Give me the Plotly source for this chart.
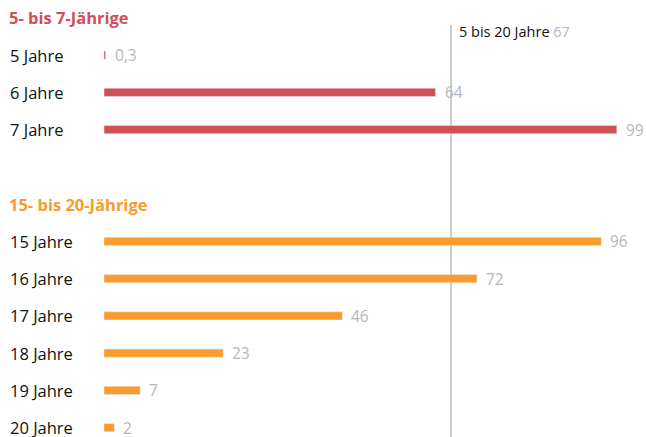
import plotly.graph_objects as go

young_header = "5- bis 7-Jährige"
young_labels = ["5 Jahre", "6 Jahre", "7 Jahre"]
young_values = [0.3, 64, 99]

teen_header = "15- bis 20-Jährige"
teen_labels = ["15 Jahre", "16 Jahre", "17 Jahre", "18 Jahre", "19 Jahre", "20 Jahre"]
teen_values = [96, 72, 46, 23, 7, 2]

ref_label = "5 bis 20 Jahre"
ref_value = 67

RED = "#d05056"
ORANGE = "#f99b2f"
GREY_TXT = "#b3b7bb"
FONT = "Open Sans"

# row order top to bottom, incl. header rows and one blank spacer
rows = [young_header] + young_labels + [" "] + [teen_header] + teen_labels

def fmt(v):
    return str(v).replace(".", ",")

fig = go.Figure()
fig.add_trace(go.Bar(x=young_values, y=young_labels, orientation="h",
                     marker_color=RED, width=0.22, hoverinfo="skip"))
fig.add_trace(go.Bar(x=teen_values, y=teen_labels, orientation="h",
                     marker_color=ORANGE, width=0.22, hoverinfo="skip"))

ann = []
for lab, val in list(zip(young_labels, young_values)) + list(zip(teen_labels, teen_values)):
    ann.append(dict(x=0, xref="paper", y=lab, text=lab, xanchor="left", xshift=-96,
                    showarrow=False, font=dict(family=FONT, size=16.5, color="#111")))
    ann.append(dict(x=val, y=lab, text=fmt(val), xanchor="left", xshift=7,
                    showarrow=False, font=dict(family=FONT, size=15.5, color=GREY_TXT)))
for head, col in [(young_header, RED), (teen_header, ORANGE)]:
    ann.append(dict(x=0, xref="paper", y=head, text="<b>%s</b>" % head, xanchor="left",
                    xshift=-97, showarrow=False, font=dict(family=FONT, size=16.5, color=col)))
ann.append(dict(x=ref_value, y=0.928, yref="paper", xanchor="left", yanchor="middle", xshift=6,
                text="%s <span style='color:%s'>%s</span>" % (ref_label, GREY_TXT, ref_value),
                showarrow=False, font=dict(family=FONT, size=14.5, color="#111")))

fig.add_shape(type="line", x0=ref_value, x1=ref_value, y0=0, y1=0.943, yref="paper",
              line=dict(color="#bdbdbd", width=1.5), layer="below")

fig.update_layout(
    width=646, height=437, margin=dict(l=104, r=24, t=0, b=0),
    plot_bgcolor="white", paper_bgcolor="white", showlegend=False,
    xaxis=dict(range=[0, 100], visible=False),
    yaxis=dict(type="category", categoryarray=rows, categoryorder="array",
               range=[11.25, -0.48], visible=False),
    annotations=ann,
)
# page has a default 8px body margin; drop it so the figure fills the window
fig.write_html("out.html", config={"displayModeBar": False},
               post_script="document.body.style.margin='0';")
